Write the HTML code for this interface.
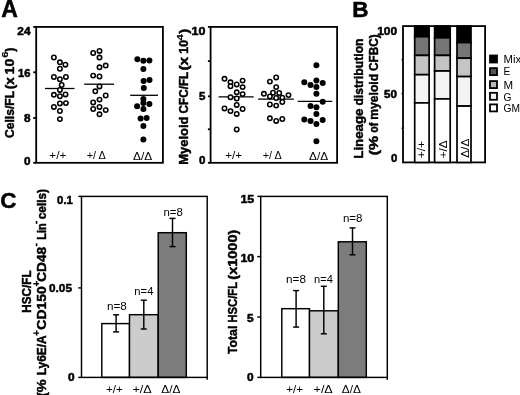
<!DOCTYPE html>
<html lang="en"><head><meta charset="utf-8"><title>Figure</title>
<style>
html,body{margin:0;padding:0;background:#fff;}
body{width:520px;height:395px;overflow:hidden;}
svg{display:block;will-change:transform;font-family:"Liberation Sans",Arial,Helvetica,sans-serif;fill:#000;}
text{white-space:pre;}
text.b{stroke:#000;stroke-width:.45px;stroke-linejoin:round;}
text.t{stroke:#000;stroke-width:.5px;stroke-linejoin:round;}
text.s{stroke:#000;stroke-width:.15px;}
</style></head><body>
<svg width="520" height="395" viewBox="0 0 520 395">
<rect x="0" y="0" width="520" height="395" fill="#fff" stroke="none"/>
<text x="1.3" y="17.1" font-size="23" text-anchor="start" font-weight="bold" class="t">A</text>
<text x="352.2" y="17.2" font-size="22.5" text-anchor="start" font-weight="bold" class="t">B</text>
<text x="0.3" y="207.5" font-size="22.5" text-anchor="start" font-weight="bold" class="t">C</text>
<rect x="36.20" y="26.90" width="126.70" height="135.90" fill="none" stroke="#000" stroke-width="1.8"/>
<line x1="33.2" y1="26.9" x2="36.2" y2="26.9" stroke="#000" stroke-width="1.8"/>
<line x1="33.2" y1="72.3" x2="36.2" y2="72.3" stroke="#000" stroke-width="1.8"/>
<line x1="33.2" y1="118.0" x2="36.2" y2="118.0" stroke="#000" stroke-width="1.8"/>
<line x1="33.2" y1="162.8" x2="36.2" y2="162.8" stroke="#000" stroke-width="1.8"/>
<text x="17.3" y="34.8" font-size="10.5" text-anchor="start" font-weight="bold" class="t" textLength="13.2" lengthAdjust="spacingAndGlyphs">24</text>
<text x="18.0" y="77.2" font-size="10.5" text-anchor="start" font-weight="bold" class="t" textLength="12.4" lengthAdjust="spacingAndGlyphs">16</text>
<text x="23.9" y="122.1" font-size="10.5" text-anchor="start" font-weight="bold" class="t" textLength="6.5" lengthAdjust="spacingAndGlyphs">8</text>
<text x="23.9" y="164.8" font-size="10.5" text-anchor="start" font-weight="bold" class="t" textLength="6.5" lengthAdjust="spacingAndGlyphs">0</text>
<line x1="45" y1="88.5" x2="74.5" y2="88.5" stroke="#000" stroke-width="1.3"/>
<line x1="84.2" y1="84.2" x2="114.1" y2="84.2" stroke="#000" stroke-width="1.3"/>
<line x1="130.2" y1="95.3" x2="158" y2="95.3" stroke="#000" stroke-width="1.3"/>
<circle cx="53.9" cy="57.5" r="2.2" fill="#fff" stroke="#000" stroke-width="1.55"/>
<circle cx="59.9" cy="62.3" r="2.2" fill="#fff" stroke="#000" stroke-width="1.55"/>
<circle cx="65.4" cy="64.7" r="2.2" fill="#fff" stroke="#000" stroke-width="1.55"/>
<circle cx="59.9" cy="68.7" r="2.2" fill="#fff" stroke="#000" stroke-width="1.55"/>
<circle cx="53.9" cy="77" r="2.2" fill="#fff" stroke="#000" stroke-width="1.55"/>
<circle cx="59.9" cy="79.2" r="2.2" fill="#fff" stroke="#000" stroke-width="1.55"/>
<circle cx="65.9" cy="77" r="2.2" fill="#fff" stroke="#000" stroke-width="1.55"/>
<circle cx="61.7" cy="85" r="2.2" fill="#fff" stroke="#000" stroke-width="1.55"/>
<circle cx="59.9" cy="89.9" r="2.2" fill="#fff" stroke="#000" stroke-width="1.55"/>
<circle cx="53.9" cy="94.8" r="2.2" fill="#fff" stroke="#000" stroke-width="1.55"/>
<circle cx="59.9" cy="96.2" r="2.2" fill="#fff" stroke="#000" stroke-width="1.55"/>
<circle cx="65.5" cy="94.4" r="2.2" fill="#fff" stroke="#000" stroke-width="1.55"/>
<circle cx="59.9" cy="103.4" r="2.2" fill="#fff" stroke="#000" stroke-width="1.55"/>
<circle cx="65.9" cy="103.1" r="2.2" fill="#fff" stroke="#000" stroke-width="1.55"/>
<circle cx="53.9" cy="106.9" r="2.2" fill="#fff" stroke="#000" stroke-width="1.55"/>
<circle cx="59.9" cy="111" r="2.2" fill="#fff" stroke="#000" stroke-width="1.55"/>
<circle cx="59.9" cy="119.1" r="2.2" fill="#fff" stroke="#000" stroke-width="1.55"/>
<circle cx="93.2" cy="53" r="2.2" fill="#fff" stroke="#000" stroke-width="1.55"/>
<circle cx="99.5" cy="50.9" r="2.2" fill="#fff" stroke="#000" stroke-width="1.55"/>
<circle cx="99.5" cy="57.6" r="2.2" fill="#fff" stroke="#000" stroke-width="1.55"/>
<circle cx="99.5" cy="67.3" r="2.2" fill="#fff" stroke="#000" stroke-width="1.55"/>
<circle cx="105.7" cy="65.6" r="2.2" fill="#fff" stroke="#000" stroke-width="1.55"/>
<circle cx="93.2" cy="75.6" r="2.2" fill="#fff" stroke="#000" stroke-width="1.55"/>
<circle cx="99.5" cy="76.5" r="2.2" fill="#fff" stroke="#000" stroke-width="1.55"/>
<circle cx="99.5" cy="86.4" r="2.2" fill="#fff" stroke="#000" stroke-width="1.55"/>
<circle cx="95.3" cy="91.3" r="2.2" fill="#fff" stroke="#000" stroke-width="1.55"/>
<circle cx="105.7" cy="95.5" r="2.2" fill="#fff" stroke="#000" stroke-width="1.55"/>
<circle cx="99.5" cy="99.6" r="2.2" fill="#fff" stroke="#000" stroke-width="1.55"/>
<circle cx="93.2" cy="102.4" r="2.2" fill="#fff" stroke="#000" stroke-width="1.55"/>
<circle cx="99.5" cy="106.9" r="2.2" fill="#fff" stroke="#000" stroke-width="1.55"/>
<circle cx="93.2" cy="109" r="2.2" fill="#fff" stroke="#000" stroke-width="1.55"/>
<circle cx="105.7" cy="110.1" r="2.2" fill="#fff" stroke="#000" stroke-width="1.55"/>
<circle cx="99.5" cy="114.3" r="2.2" fill="#fff" stroke="#000" stroke-width="1.55"/>
<circle cx="137.4" cy="59.2" r="3" fill="#000"/>
<circle cx="143.4" cy="60.8" r="3" fill="#000"/>
<circle cx="149.4" cy="60.4" r="3" fill="#000"/>
<circle cx="143.4" cy="69.1" r="3" fill="#000"/>
<circle cx="143.6" cy="81.0" r="3" fill="#000"/>
<circle cx="149.5" cy="80" r="3" fill="#000"/>
<circle cx="143.8" cy="88.1" r="3" fill="#000"/>
<circle cx="143.4" cy="98.9" r="3" fill="#000"/>
<circle cx="143.4" cy="103.1" r="3" fill="#000"/>
<circle cx="149.4" cy="104.1" r="3" fill="#000"/>
<circle cx="137.1" cy="106.2" r="3" fill="#000"/>
<circle cx="143.4" cy="109" r="3" fill="#000"/>
<circle cx="140.6" cy="118.6" r="3" fill="#000"/>
<circle cx="146.6" cy="117.9" r="3" fill="#000"/>
<circle cx="143.4" cy="126.1" r="3" fill="#000"/>
<circle cx="143.4" cy="139.4" r="3" fill="#000"/>
<text x="49.3" y="158.6" font-size="10.5" text-anchor="start" textLength="17.0" lengthAdjust="spacingAndGlyphs">+/+</text>
<text x="86.7" y="158.9" font-size="10.5" text-anchor="start" textLength="19.0" lengthAdjust="spacingAndGlyphs">+/ <tspan font-size='10.5'>Δ</tspan></text>
<text x="133.0" y="159.9" font-size="10.5" text-anchor="start" textLength="19.2" lengthAdjust="spacingAndGlyphs"><tspan font-size='10.5'>Δ</tspan>/<tspan font-size='10.5'>Δ</tspan></text>
<text x="14.0" y="138.02" font-size="12.3" text-anchor="start" font-weight="bold" class="b" textLength="47.1" lengthAdjust="spacingAndGlyphs" transform="rotate(-90 14.0 138.02)">Cells/FL</text>
<text x="14.0" y="89.31" font-size="12.3" text-anchor="start" font-weight="bold" class="b" textLength="11.9" lengthAdjust="spacingAndGlyphs" transform="rotate(-90 14.0 89.31)">(x</text>
<text x="14.0" y="74.41" font-size="12.3" text-anchor="start" font-weight="bold" class="b" textLength="15.6" lengthAdjust="spacingAndGlyphs" transform="rotate(-90 14.0 74.41)">10</text>
<text x="7.9" y="57.7" font-size="9.5" text-anchor="start" font-weight="bold" class="s" textLength="6.3" lengthAdjust="spacingAndGlyphs" transform="rotate(-90 7.9 57.7)">6</text>
<text x="14.0" y="51.8" font-size="12.3" text-anchor="start" font-weight="bold" class="t" transform="rotate(-90 14.0 51.8)">)</text>
<rect x="210.60" y="26.90" width="126.50" height="135.90" fill="none" stroke="#000" stroke-width="1.8"/>
<line x1="207.9" y1="26.9" x2="210.6" y2="26.9" stroke="#000" stroke-width="1.8"/>
<line x1="207.9" y1="61.1" x2="210.6" y2="61.1" stroke="#000" stroke-width="1.8"/>
<line x1="207.9" y1="96.3" x2="210.6" y2="96.3" stroke="#000" stroke-width="1.8"/>
<line x1="207.9" y1="129.3" x2="210.6" y2="129.3" stroke="#000" stroke-width="1.8"/>
<line x1="207.9" y1="162.8" x2="210.6" y2="162.8" stroke="#000" stroke-width="1.8"/>
<text x="191.6" y="34.8" font-size="10.5" text-anchor="start" font-weight="bold" class="t" textLength="13.9" lengthAdjust="spacingAndGlyphs">10</text>
<text x="199.1" y="100.1" font-size="10.5" text-anchor="start" font-weight="bold" class="t" textLength="6.4" lengthAdjust="spacingAndGlyphs">5</text>
<text x="199.1" y="164.4" font-size="10.5" text-anchor="start" font-weight="bold" class="t" textLength="6.4" lengthAdjust="spacingAndGlyphs">0</text>
<line x1="218.6" y1="96.9" x2="253.7" y2="96.9" stroke="#000" stroke-width="1.3"/>
<line x1="258.1" y1="99.2" x2="293.8" y2="99.2" stroke="#000" stroke-width="1.3"/>
<line x1="297.7" y1="101.3" x2="332.2" y2="101.3" stroke="#000" stroke-width="1.3"/>
<circle cx="224.5" cy="78.8" r="2.2" fill="#fff" stroke="#000" stroke-width="1.55"/>
<circle cx="230.5" cy="82.3" r="2.2" fill="#fff" stroke="#000" stroke-width="1.55"/>
<circle cx="230.5" cy="86.2" r="2.2" fill="#fff" stroke="#000" stroke-width="1.55"/>
<circle cx="236.7" cy="84.4" r="2.2" fill="#fff" stroke="#000" stroke-width="1.55"/>
<circle cx="242.6" cy="80.6" r="2.2" fill="#fff" stroke="#000" stroke-width="1.55"/>
<circle cx="242.6" cy="87.1" r="2.2" fill="#fff" stroke="#000" stroke-width="1.55"/>
<circle cx="236.7" cy="92.3" r="2.2" fill="#fff" stroke="#000" stroke-width="1.55"/>
<circle cx="242.6" cy="94.1" r="2.2" fill="#fff" stroke="#000" stroke-width="1.55"/>
<circle cx="230.5" cy="97.2" r="2.2" fill="#fff" stroke="#000" stroke-width="1.55"/>
<circle cx="236.7" cy="98.5" r="2.2" fill="#fff" stroke="#000" stroke-width="1.55"/>
<circle cx="236.7" cy="104.9" r="2.2" fill="#fff" stroke="#000" stroke-width="1.55"/>
<circle cx="224.5" cy="108.4" r="2.2" fill="#fff" stroke="#000" stroke-width="1.55"/>
<circle cx="230.5" cy="111.1" r="2.2" fill="#fff" stroke="#000" stroke-width="1.55"/>
<circle cx="242.6" cy="109" r="2.2" fill="#fff" stroke="#000" stroke-width="1.55"/>
<circle cx="236.7" cy="113.9" r="2.2" fill="#fff" stroke="#000" stroke-width="1.55"/>
<circle cx="236.7" cy="129.5" r="2.2" fill="#fff" stroke="#000" stroke-width="1.55"/>
<circle cx="276.2" cy="77.4" r="2.2" fill="#fff" stroke="#000" stroke-width="1.55"/>
<circle cx="269.9" cy="81.6" r="2.2" fill="#fff" stroke="#000" stroke-width="1.55"/>
<circle cx="276.2" cy="87.1" r="2.2" fill="#fff" stroke="#000" stroke-width="1.55"/>
<circle cx="263.9" cy="93.8" r="2.2" fill="#fff" stroke="#000" stroke-width="1.55"/>
<circle cx="273" cy="92.7" r="2.2" fill="#fff" stroke="#000" stroke-width="1.55"/>
<circle cx="279.2" cy="93" r="2.2" fill="#fff" stroke="#000" stroke-width="1.55"/>
<circle cx="269.9" cy="96.5" r="2.2" fill="#fff" stroke="#000" stroke-width="1.55"/>
<circle cx="276.2" cy="98" r="2.2" fill="#fff" stroke="#000" stroke-width="1.55"/>
<circle cx="282.3" cy="97.6" r="2.2" fill="#fff" stroke="#000" stroke-width="1.55"/>
<circle cx="288.5" cy="95.1" r="2.2" fill="#fff" stroke="#000" stroke-width="1.55"/>
<circle cx="282.3" cy="102" r="2.2" fill="#fff" stroke="#000" stroke-width="1.55"/>
<circle cx="269.9" cy="104.5" r="2.2" fill="#fff" stroke="#000" stroke-width="1.55"/>
<circle cx="276.2" cy="105.6" r="2.2" fill="#fff" stroke="#000" stroke-width="1.55"/>
<circle cx="269.9" cy="118.3" r="2.2" fill="#fff" stroke="#000" stroke-width="1.55"/>
<circle cx="276.2" cy="120.9" r="2.2" fill="#fff" stroke="#000" stroke-width="1.55"/>
<circle cx="282.3" cy="119" r="2.2" fill="#fff" stroke="#000" stroke-width="1.55"/>
<circle cx="316.4" cy="65.3" r="3" fill="#000"/>
<circle cx="304.3" cy="82.3" r="3" fill="#000"/>
<circle cx="310.5" cy="85" r="3" fill="#000"/>
<circle cx="316.4" cy="80.6" r="3" fill="#000"/>
<circle cx="322.7" cy="83" r="3" fill="#000"/>
<circle cx="316.4" cy="86.9" r="3" fill="#000"/>
<circle cx="316.4" cy="93.8" r="3" fill="#000"/>
<circle cx="322.7" cy="101.7" r="3" fill="#000"/>
<circle cx="310.5" cy="105.9" r="3" fill="#000"/>
<circle cx="316.4" cy="107.3" r="3" fill="#000"/>
<circle cx="316.4" cy="114.1" r="3" fill="#000"/>
<circle cx="304.3" cy="119.5" r="3" fill="#000"/>
<circle cx="310.5" cy="120.9" r="3" fill="#000"/>
<circle cx="316.4" cy="123.9" r="3" fill="#000"/>
<circle cx="322.7" cy="120" r="3" fill="#000"/>
<circle cx="316.4" cy="141.3" r="3" fill="#000"/>
<text x="225.2" y="158.9" font-size="10.5" text-anchor="start" textLength="17.1" lengthAdjust="spacingAndGlyphs">+/+</text>
<text x="262.8" y="159.3" font-size="10.5" text-anchor="start" textLength="18.9" lengthAdjust="spacingAndGlyphs">+/ <tspan font-size='10.5'>Δ</tspan></text>
<text x="309.0" y="159.9" font-size="10.5" text-anchor="start" textLength="19.1" lengthAdjust="spacingAndGlyphs"><tspan font-size='10.5'>Δ</tspan>/<tspan font-size='10.5'>Δ</tspan></text>
<text x="187.6" y="164.72" font-size="12.3" text-anchor="start" font-weight="bold" class="b" textLength="48.1" lengthAdjust="spacingAndGlyphs" transform="rotate(-90 187.6 164.72)">Myeloid</text>
<text x="187.6" y="113.41" font-size="12.3" text-anchor="start" font-weight="bold" class="b" textLength="41.7" lengthAdjust="spacingAndGlyphs" transform="rotate(-90 187.6 113.41)">CFC/FL</text>
<text x="187.6" y="70.61" font-size="12.3" text-anchor="start" font-weight="bold" class="b" textLength="13.8" lengthAdjust="spacingAndGlyphs" transform="rotate(-90 187.6 70.61)">(x</text>
<text x="187.6" y="53.62" font-size="12.3" text-anchor="start" font-weight="bold" class="b" textLength="13.6" lengthAdjust="spacingAndGlyphs" transform="rotate(-90 187.6 53.62)">10</text>
<text x="182.9" y="40.6" font-size="9.5" text-anchor="start" font-weight="bold" class="s" textLength="6.3" lengthAdjust="spacingAndGlyphs" transform="rotate(-90 182.9 40.6)">4</text>
<text x="187.6" y="33.62" font-size="12.3" text-anchor="start" font-weight="bold" class="b" textLength="4.9" lengthAdjust="spacingAndGlyphs" transform="rotate(-90 187.6 33.62)">)</text>
<rect x="403.00" y="26.10" width="82.10" height="136.30" fill="none" stroke="#000" stroke-width="1.8"/>
<line x1="401.4" y1="59.8" x2="403.0" y2="59.8" stroke="#000" stroke-width="1.1"/>
<line x1="401.4" y1="93.8" x2="403.0" y2="93.8" stroke="#000" stroke-width="1.1"/>
<line x1="401.4" y1="128.3" x2="403.0" y2="128.3" stroke="#000" stroke-width="1.1"/>
<text x="377.2" y="34.8" font-size="10.5" text-anchor="start" font-weight="bold" class="t" textLength="19.8" lengthAdjust="spacingAndGlyphs">100</text>
<text x="384.1" y="97.5" font-size="10.5" text-anchor="start" font-weight="bold" class="t" textLength="12.9" lengthAdjust="spacingAndGlyphs">50</text>
<text x="390.9" y="162.0" font-size="10.5" text-anchor="start" font-weight="bold" class="t" textLength="6.3" lengthAdjust="spacingAndGlyphs">0</text>
<rect x="414.70" y="26.10" width="14.40" height="10.60" fill="#000" stroke="#000" stroke-width="1.7"/>
<rect x="414.70" y="36.70" width="14.40" height="18.70" fill="#757575" stroke="#000" stroke-width="1.7"/>
<rect x="414.70" y="55.40" width="14.40" height="19.30" fill="#c4c4c4" stroke="#000" stroke-width="1.7"/>
<rect x="414.70" y="74.70" width="14.40" height="28.20" fill="#f3f3f3" stroke="#000" stroke-width="1.7"/>
<rect x="414.70" y="102.90" width="14.40" height="59.50" fill="#fff" stroke="#000" stroke-width="1.7"/>
<rect x="434.60" y="26.10" width="15.60" height="11.70" fill="#000" stroke="#000" stroke-width="1.7"/>
<rect x="434.60" y="37.80" width="15.60" height="17.60" fill="#757575" stroke="#000" stroke-width="1.7"/>
<rect x="434.60" y="55.40" width="15.60" height="15.60" fill="#c4c4c4" stroke="#000" stroke-width="1.7"/>
<rect x="434.60" y="71.00" width="15.60" height="27.90" fill="#f3f3f3" stroke="#000" stroke-width="1.7"/>
<rect x="434.60" y="98.90" width="15.60" height="63.50" fill="#fff" stroke="#000" stroke-width="1.7"/>
<rect x="457.00" y="26.10" width="14.00" height="16.50" fill="#000" stroke="#000" stroke-width="1.7"/>
<rect x="457.00" y="42.60" width="14.00" height="15.60" fill="#757575" stroke="#000" stroke-width="1.7"/>
<rect x="457.00" y="58.20" width="14.00" height="18.40" fill="#c4c4c4" stroke="#000" stroke-width="1.7"/>
<rect x="457.00" y="76.60" width="14.00" height="29.50" fill="#f3f3f3" stroke="#000" stroke-width="1.7"/>
<rect x="457.00" y="106.10" width="14.00" height="56.30" fill="#fff" stroke="#000" stroke-width="1.7"/>
<text x="425.3" y="158.3" font-size="10" text-anchor="start" textLength="17.3" lengthAdjust="spacingAndGlyphs" transform="rotate(-90 425.3 158.3)">+/+</text>
<text x="446.9" y="158.3" font-size="10" text-anchor="start" textLength="18.0" lengthAdjust="spacingAndGlyphs" transform="rotate(-90 446.9 158.3)">+/Δ</text>
<text x="468.7" y="157.8" font-size="10" text-anchor="start" textLength="19.1" lengthAdjust="spacingAndGlyphs" transform="rotate(-90 468.7 157.8)">Δ/Δ</text>
<rect x="490.00" y="55.50" width="7.00" height="7.00" fill="#000" stroke="#000" stroke-width="1.8"/>
<text x="503.6" y="63" font-size="10.2" text-anchor="start" textLength="17.6" lengthAdjust="spacingAndGlyphs">Mix</text>
<rect x="490.00" y="68.10" width="7.00" height="7.00" fill="#555" stroke="#000" stroke-width="1.8"/>
<text x="503.6" y="75" font-size="10.2" text-anchor="start">E</text>
<rect x="490.00" y="81.10" width="7.00" height="7.00" fill="#b8b8b8" stroke="#000" stroke-width="1.8"/>
<text x="503.6" y="88.5" font-size="10.2" text-anchor="start" textLength="9.6" lengthAdjust="spacingAndGlyphs">M</text>
<rect x="490.00" y="92.80" width="7.00" height="7.00" fill="#f3f3f3" stroke="#000" stroke-width="1.8"/>
<text x="503.6" y="100.5" font-size="10.2" text-anchor="start">G</text>
<rect x="490.00" y="104.40" width="7.00" height="7.00" fill="#fff" stroke="#000" stroke-width="1.8"/>
<text x="503.6" y="111.7" font-size="10.2" text-anchor="start">GM</text>
<text x="363.4" y="158.72" font-size="12.3" text-anchor="start" font-weight="bold" class="b" textLength="50.2" lengthAdjust="spacingAndGlyphs" transform="rotate(-90 363.4 158.72)">Lineage</text>
<text x="363.4" y="105.61" font-size="12.3" text-anchor="start" font-weight="bold" class="b" textLength="67.2" lengthAdjust="spacingAndGlyphs" transform="rotate(-90 363.4 105.61)">distribution</text>
<text x="377.6" y="155.22" font-size="12.3" text-anchor="start" font-weight="bold" class="b" textLength="19.4" lengthAdjust="spacingAndGlyphs" transform="rotate(-90 377.6 155.22)">(%</text>
<text x="377.6" y="132.72" font-size="12.3" text-anchor="start" font-weight="bold" class="b" textLength="10.0" lengthAdjust="spacingAndGlyphs" transform="rotate(-90 377.6 132.72)">of</text>
<text x="377.6" y="119.81" font-size="12.3" text-anchor="start" font-weight="bold" class="b" textLength="46.0" lengthAdjust="spacingAndGlyphs" transform="rotate(-90 377.6 119.81)">myeloid</text>
<text x="377.6" y="71.02" font-size="12.3" text-anchor="start" font-weight="bold" class="b" textLength="36.6" lengthAdjust="spacingAndGlyphs" transform="rotate(-90 377.6 71.02)">CFBC)</text>
<rect x="101.80" y="323.60" width="27.70" height="53.80" fill="#fff" stroke="#000" stroke-width="1.45"/>
<rect x="129.50" y="314.70" width="28.70" height="62.70" fill="#ccc" stroke="#000" stroke-width="1.45"/>
<rect x="158.20" y="232.70" width="28.10" height="144.70" fill="#7c7c7c" stroke="#000" stroke-width="1.45"/>
<rect x="81.50" y="196.40" width="125.70" height="181.00" fill="none" stroke="#000" stroke-width="1.45"/>
<line x1="78.3" y1="196.4" x2="81.5" y2="196.4" stroke="#000" stroke-width="1.45"/>
<line x1="78.3" y1="287.9" x2="81.5" y2="287.9" stroke="#000" stroke-width="1.45"/>
<line x1="78.3" y1="377.4" x2="81.5" y2="377.4" stroke="#000" stroke-width="1.45"/>
<line x1="207.2" y1="377.4" x2="207.2" y2="379.79999999999995" stroke="#000" stroke-width="1.45"/>
<line x1="116.1" y1="314.8" x2="116.1" y2="331.9" stroke="#000" stroke-width="1.45"/>
<line x1="113.1" y1="314.8" x2="119.1" y2="314.8" stroke="#000" stroke-width="1.45"/>
<line x1="113.1" y1="331.9" x2="119.1" y2="331.9" stroke="#000" stroke-width="1.45"/>
<line x1="143.8" y1="300.2" x2="143.8" y2="329.0" stroke="#000" stroke-width="1.45"/>
<line x1="140.8" y1="300.2" x2="146.8" y2="300.2" stroke="#000" stroke-width="1.45"/>
<line x1="140.8" y1="329.0" x2="146.8" y2="329.0" stroke="#000" stroke-width="1.45"/>
<line x1="172.5" y1="218.4" x2="172.5" y2="246.6" stroke="#000" stroke-width="1.45"/>
<line x1="169.5" y1="218.4" x2="175.5" y2="218.4" stroke="#000" stroke-width="1.45"/>
<line x1="169.5" y1="246.6" x2="175.5" y2="246.6" stroke="#000" stroke-width="1.45"/>
<text x="106.9" y="309.6" font-size="11" text-anchor="start" textLength="19.9" lengthAdjust="spacingAndGlyphs">n=8</text>
<text x="134.3" y="294.9" font-size="11" text-anchor="start" textLength="19.1" lengthAdjust="spacingAndGlyphs">n=4</text>
<text x="163.4" y="215.7" font-size="11" text-anchor="start" textLength="19.4" lengthAdjust="spacingAndGlyphs">n=8</text>
<text x="57.1" y="204.0" font-size="10.5" text-anchor="start" font-weight="bold" class="t" textLength="15.8" lengthAdjust="spacingAndGlyphs">0.1</text>
<text x="49.1" y="292.0" font-size="10.5" text-anchor="start" font-weight="bold" class="t" textLength="22.8" lengthAdjust="spacingAndGlyphs">0.05</text>
<text x="68.1" y="380.5" font-size="10.5" text-anchor="start" font-weight="bold" class="t" textLength="6.6" lengthAdjust="spacingAndGlyphs">0</text>
<text x="106.1" y="392.6" font-size="10.5" text-anchor="start" textLength="16.7" lengthAdjust="spacingAndGlyphs">+/+</text>
<text x="132.4" y="393.2" font-size="10.5" text-anchor="start" textLength="19.2" lengthAdjust="spacingAndGlyphs">+/<tspan font-size='10.6'>Δ</tspan></text>
<text x="161.3" y="393.3" font-size="10.5" text-anchor="start" textLength="19.1" lengthAdjust="spacingAndGlyphs"><tspan font-size='10.6'>Δ</tspan>/<tspan font-size='10.6'>Δ</tspan></text>
<text x="31.4" y="312.62" font-size="12.3" text-anchor="start" font-weight="bold" class="b" textLength="42.2" lengthAdjust="spacingAndGlyphs" transform="rotate(-90 31.4 312.62)">HSC/FL</text>
<text x="46.4" y="397.01" font-size="12.3" text-anchor="start" font-weight="bold" class="b" textLength="17.6" lengthAdjust="spacingAndGlyphs" transform="rotate(-90 46.4 397.01)">(%</text>
<text x="46.4" y="375.31" font-size="12.3" text-anchor="start" font-weight="bold" class="b" textLength="39.9" lengthAdjust="spacingAndGlyphs" transform="rotate(-90 46.4 375.31)">Ly6E/A</text>
<text x="39.8" y="336.0" font-size="10" text-anchor="start" font-weight="bold" class="s" transform="rotate(-90 39.8 336.0)">+</text>
<text x="46.4" y="329.62" font-size="12.3" text-anchor="start" font-weight="bold" class="b" textLength="43.3" lengthAdjust="spacingAndGlyphs" transform="rotate(-90 46.4 329.62)">CD150</text>
<text x="39.8" y="286.4" font-size="10" text-anchor="start" font-weight="bold" class="s" transform="rotate(-90 39.8 286.4)">+</text>
<text x="46.4" y="281.72" font-size="12.3" text-anchor="start" font-weight="bold" class="b" textLength="34.8" lengthAdjust="spacingAndGlyphs" transform="rotate(-90 46.4 281.72)">CD48</text>
<text x="38.8" y="246.4" font-size="11" text-anchor="start" font-weight="bold" class="s" transform="rotate(-90 38.8 246.4)">-</text>
<text x="46.4" y="239.72" font-size="12.3" text-anchor="start" font-weight="bold" class="b" textLength="16.3" lengthAdjust="spacingAndGlyphs" transform="rotate(-90 46.4 239.72)">Lin</text>
<text x="38.8" y="224.3" font-size="11" text-anchor="start" font-weight="bold" class="s" transform="rotate(-90 38.8 224.3)">-</text>
<text x="46.4" y="219.31" font-size="12.3" text-anchor="start" font-weight="bold" class="b" textLength="30.4" lengthAdjust="spacingAndGlyphs" transform="rotate(-90 46.4 219.31)">cells)</text>
<rect x="281.80" y="308.70" width="27.70" height="68.70" fill="#fff" stroke="#000" stroke-width="1.45"/>
<rect x="309.50" y="310.80" width="28.80" height="66.60" fill="#ccc" stroke="#000" stroke-width="1.45"/>
<rect x="338.30" y="241.80" width="28.00" height="135.60" fill="#7c7c7c" stroke="#000" stroke-width="1.45"/>
<rect x="260.70" y="196.40" width="126.60" height="181.00" fill="none" stroke="#000" stroke-width="1.45"/>
<line x1="257.3" y1="196.4" x2="260.7" y2="196.4" stroke="#000" stroke-width="1.45"/>
<line x1="257.3" y1="256.6" x2="260.7" y2="256.6" stroke="#000" stroke-width="1.45"/>
<line x1="257.3" y1="317.0" x2="260.7" y2="317.0" stroke="#000" stroke-width="1.45"/>
<line x1="257.3" y1="377.4" x2="260.7" y2="377.4" stroke="#000" stroke-width="1.45"/>
<line x1="387.3" y1="377.4" x2="387.3" y2="379.79999999999995" stroke="#000" stroke-width="1.45"/>
<line x1="296.1" y1="290.6" x2="296.1" y2="327.1" stroke="#000" stroke-width="1.45"/>
<line x1="293.1" y1="290.6" x2="299.1" y2="290.6" stroke="#000" stroke-width="1.45"/>
<line x1="293.1" y1="327.1" x2="299.1" y2="327.1" stroke="#000" stroke-width="1.45"/>
<line x1="323.8" y1="286.3" x2="323.8" y2="333.8" stroke="#000" stroke-width="1.45"/>
<line x1="320.8" y1="286.3" x2="326.8" y2="286.3" stroke="#000" stroke-width="1.45"/>
<line x1="320.8" y1="333.8" x2="326.8" y2="333.8" stroke="#000" stroke-width="1.45"/>
<line x1="352.5" y1="227.9" x2="352.5" y2="254.8" stroke="#000" stroke-width="1.45"/>
<line x1="349.5" y1="227.9" x2="355.5" y2="227.9" stroke="#000" stroke-width="1.45"/>
<line x1="349.5" y1="254.8" x2="355.5" y2="254.8" stroke="#000" stroke-width="1.45"/>
<text x="286.1" y="282.6" font-size="11" text-anchor="start" textLength="19.9" lengthAdjust="spacingAndGlyphs">n=8</text>
<text x="314.0" y="282.6" font-size="11" text-anchor="start" textLength="18.8" lengthAdjust="spacingAndGlyphs">n=4</text>
<text x="342.9" y="222.1" font-size="11" text-anchor="start" textLength="19.6" lengthAdjust="spacingAndGlyphs">n=8</text>
<text x="240.4" y="203.1" font-size="10.5" text-anchor="start" font-weight="bold" class="t" textLength="13.8" lengthAdjust="spacingAndGlyphs">15</text>
<text x="240.4" y="261.6" font-size="10.5" text-anchor="start" font-weight="bold" class="t" textLength="13.8" lengthAdjust="spacingAndGlyphs">10</text>
<text x="246.9" y="322.2" font-size="10.5" text-anchor="start" font-weight="bold" class="t" textLength="6.6" lengthAdjust="spacingAndGlyphs">5</text>
<text x="246.9" y="381.2" font-size="10.5" text-anchor="start" font-weight="bold" class="t" textLength="6.6" lengthAdjust="spacingAndGlyphs">0</text>
<text x="286.3" y="392.6" font-size="10.5" text-anchor="start" textLength="16.8" lengthAdjust="spacingAndGlyphs">+/+</text>
<text x="313.6" y="393.2" font-size="10.5" text-anchor="start" textLength="19.2" lengthAdjust="spacingAndGlyphs">+/<tspan font-size='10.6'>Δ</tspan></text>
<text x="341.8" y="393.3" font-size="10.5" text-anchor="start" textLength="19.1" lengthAdjust="spacingAndGlyphs"><tspan font-size='10.6'>Δ</tspan>/<tspan font-size='10.6'>Δ</tspan></text>
<text x="236.6" y="354.01" font-size="12.3" text-anchor="start" font-weight="bold" class="b" textLength="28.3" lengthAdjust="spacingAndGlyphs" transform="rotate(-90 236.6 354.01)">Total</text>
<text x="236.6" y="322.51" font-size="12.3" text-anchor="start" font-weight="bold" class="b" textLength="40.6" lengthAdjust="spacingAndGlyphs" transform="rotate(-90 236.6 322.51)">HSC/FL</text>
<text x="236.6" y="279.62" font-size="12.3" text-anchor="start" font-weight="bold" class="b" textLength="49.9" lengthAdjust="spacingAndGlyphs" transform="rotate(-90 236.6 279.62)">(x1000)</text>
</svg>
</body></html>
